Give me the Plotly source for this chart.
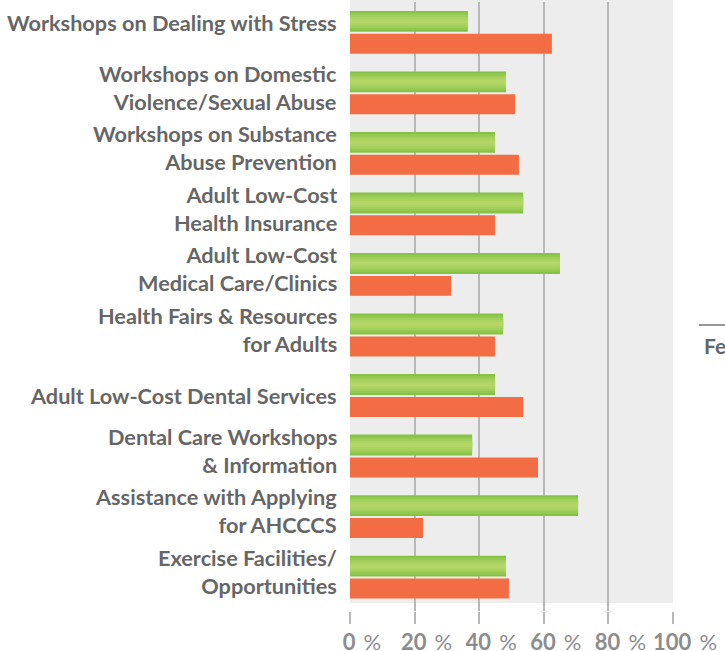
import plotly.graph_objects as go

# Catégories et valeurs (en %)
categories = [
    "Workshops on Dealing with Stress",
    "Workshops on Domestic<br>Violence/Sexual Abuse",
    "Workshops on Substance<br>Abuse Prevention",
    "Adult Low-Cost<br>Health Insurance",
    "Adult Low-Cost<br>Medical Care/Clinics",
    "Health Fairs & Resources<br>for Adults",
    "Adult Low-Cost Dental Services",
    "Dental Care Workshops<br>& Information",
    "Assistance with Applying<br>for AHCCCS",
    "Exercise Facilities/<br>Opportunities",
]
green_values = [36.5, 48.3, 44.9, 53.6, 65.0, 47.4, 44.9, 37.8, 70.6, 48.3]
orange_values = [62.5, 51.1, 52.3, 44.9, 31.3, 44.9, 53.6, 58.2, 22.6, 49.2]
tick_values = [0, 20, 40, 60, 80, 100]

# Le "%" est plus fin que le chiffre
tick_labels = [f"{v}\u00a0\u2009<span style='font-weight:400'>%</span>" for v in tick_values]

GREEN_SHADES = ["#86c246", "#94c951", "#a2cf5b", "#acd362", "#b3d666"]
ORANGE = "#f26c44"
LABEL_FONT = dict(family="Lato", size=21.7, color="#666666", weight=700)
# décalage vertical des libellés (px), les libellés sur deux lignes montent un peu
LABEL_YSHIFT = {0: 9, 6: -1}

fig = go.Figure()

# Barres vertes : dégradé simulé par couches superposées
green_w = 0.345
green_c = -0.18
for i, shade in enumerate(GREEN_SHADES):
    w = green_w * (1 - i / len(GREEN_SHADES))
    fig.add_trace(go.Bar(
        y=categories, x=green_values, orientation="h",
        width=w, offset=green_c - w / 2,
        marker=dict(color=shade, line_width=0),
        showlegend=False, hoverinfo="skip" if i else None,
    ))

# Barres orange
fig.add_trace(go.Bar(
    y=categories, x=orange_values, orientation="h",
    width=0.33, offset=0.025,
    marker=dict(color=ORANGE, line_width=0),
    showlegend=False,
))

# Libellés des catégories
for i, cat in enumerate(categories):
    fig.add_annotation(text=cat, xref="paper", yref="y", x=-11 / 323, y=cat,
                       xanchor="right", yanchor="middle", align="right",
                       yshift=LABEL_YSHIFT.get(i, 5), showarrow=False, font=LABEL_FONT)

# Fond gris de la zone de tracé
fig.add_shape(type="rect", xref="x", yref="paper", x0=0, x1=100, y0=0.013, y1=1.01,
              fillcolor="#ededed", line_width=0, layer="below")

# Légende coupée à droite
fig.add_shape(type="line", xref="paper", yref="paper", x0=1.08, x1=1.3,
              y0=1 - (325 - 2) / 609, y1=1 - (325 - 2) / 609,
              line=dict(color="#333333", width=1.2))
fig.add_annotation(text="Female", xref="paper", yref="paper", x=1.09, xanchor="left",
                   y=1 - (345 - 2) / 609, yanchor="middle", showarrow=False,
                   font=dict(family="Lato", size=21, color="#666666", weight=700))

fig.update_layout(
    width=725, height=651,
    margin=dict(l=350, r=52, t=2, b=40),
    barmode="overlay",
    plot_bgcolor="white", paper_bgcolor="white",
    font=dict(family="Lato", color="#666666"),
)
fig.update_xaxes(
    range=[0, 100], tickvals=tick_values, ticktext=tick_labels, tickangle=0,
    showgrid=True, gridcolor="#b8b8b8", gridwidth=1.5,
    ticks="outside", ticklen=12, tickwidth=1.5, tickcolor="#b8b8b8",
    tickfont=dict(family="Lato", size=22, color="#8c8c8c", weight=700),
    ticklabelstandoff=0, ticklabelshift=12, automargin=False,
    zeroline=False, showline=False, fixedrange=True,
)
fig.update_yaxes(
    autorange="reversed", showgrid=False, ticks="", showticklabels=False,
    showline=False, automargin=False, fixedrange=True,
)

# Supprimer la marge par défaut de la page
fig.write_html("out.html", config={"displayModeBar": False},
               post_script="document.body.style.margin='0';")
